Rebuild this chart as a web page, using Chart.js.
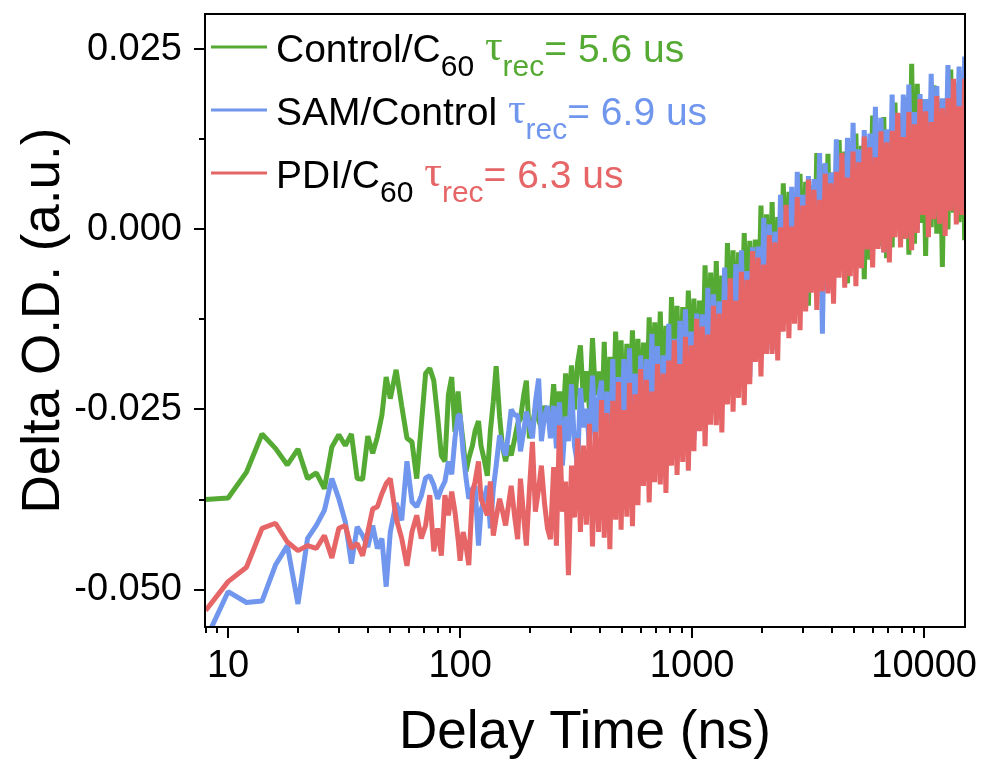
<!DOCTYPE html>
<html>
<head>
<meta charset="utf-8">
<title>Delta O.D. vs delay time</title>
<script src="https://cdn.jsdelivr.net/npm/chart.js@4.4.1/dist/chart.umd.min.js"></script>
<style>
  html, body { margin: 0; padding: 0; background: #fff; }
  canvas { display: block; }
</style>
</head>
<body>
<canvas id="decayChart" width="984" height="767"></canvas>
<script>
// Delay times (ns), shared by all three traces
const delayTimes = [
  8, 10, 12, 14, 16, 18, 20, 22, 24, 26, 28, 30, 32, 34, 36, 38, 40, 42, 44, 46, 48, 50,
  53, 56, 59, 62, 65, 68, 71, 74, 77, 80, 83, 86, 89, 92, 95, 98,
  100, 103, 106, 109, 113, 116, 120, 123, 127, 131,
  135, 139, 143, 148, 152, 157, 162, 166, 172, 177,
  182, 188, 193, 199, 205, 211, 218, 224, 231, 238,
  245, 253, 260, 268, 276, 285, 293, 302, 311, 321,
  330, 340, 350, 361, 372, 383, 395,
  407, 418, 430, 442, 455, 468, 481, 494, 508, 523,
  537, 553, 568, 584, 600, 617, 635, 653, 671, 690,
  709, 729, 750, 771, 793, 815, 838, 861, 886, 911,
  936, 963, 990, 1018, 1046, 1076, 1106, 1137, 1169, 1202,
  1236, 1271, 1306, 1343, 1381, 1420, 1460, 1501, 1543, 1586,
  1631, 1677, 1724, 1772, 1822, 1873, 1926, 1980, 2036, 2093,
  2152, 2212, 2274, 2338, 2404, 2471, 2541, 2612, 2686, 2761,
  2839, 2918, 3000, 3085, 3171, 3260, 3352, 3446, 3543, 3643,
  3745, 3850, 3958, 4069, 4184, 4301, 4422, 4546, 4674, 4805,
  4940, 5079, 5221, 5368, 5519, 5674, 5833, 5997, 6165, 6338,
  6516, 6699, 6887, 7081, 7279, 7484, 7694, 7910, 8132, 8360,
  8595, 8836, 9084, 9339, 9601, 9871, 10148, 10433, 10726, 11027,
  11336, 11654, 11982, 12318, 12664, 13019, 13384, 13760, 14146, 14544,
  14952
];

// Control/C60
const controlC60 = [
  -0.0375, -0.0373, -0.0337, -0.0284, -0.0304, -0.0327, -0.0305, -0.0346, -0.0338, -0.0360, -0.0302, -0.0285, -0.0300, -0.0284, -0.0346, -0.0347, -0.0287, -0.0311, -0.0288, -0.0258, -0.0205, -0.0235,
  -0.0195, -0.0245, -0.0290, -0.0295, -0.0346, -0.0272, -0.0200, -0.0193, -0.0210, -0.0260, -0.0314, -0.0322, -0.0230, -0.0205, -0.0281, -0.0225,
  -0.0260, -0.0295, -0.0336, -0.0318, -0.0300, -0.0280, -0.0266, -0.0300, -0.0320, -0.0342,
  -0.0280, -0.0239, -0.0190, -0.0260, -0.0300, -0.0322, -0.0300, -0.0314, -0.0290, -0.0270,
  -0.0263, -0.0230, -0.0210, -0.0290, -0.0270, -0.0249, -0.0265, -0.0276, -0.0245, -0.0260,
  -0.0272, -0.0215, -0.0265, -0.0225, -0.0281, -0.0200, -0.0260, -0.0189, -0.0250, -0.0185,
  -0.0161, -0.0240, -0.0197, -0.0250, -0.0151, -0.0230, -0.0197,
  -0.0286, -0.0156, -0.0299, -0.0177, -0.0287, -0.0142, -0.0268, -0.0154, -0.0297, -0.0159,
  -0.0269, -0.0140, -0.0274, -0.0152, -0.0287, -0.0157, -0.0267, -0.0122, -0.0248, -0.0129,
  -0.0254, -0.0114, -0.0265, -0.0134, -0.0250, -0.0094, -0.0227, -0.0106, -0.0256, -0.0108,
  -0.0225, -0.0085, -0.0227, -0.0096, -0.0238, -0.0099, -0.0220, -0.0050, -0.0193, -0.0060,
  -0.0195, -0.0044, -0.0206, -0.0064, -0.0189, -0.0019, -0.0162, -0.0029, -0.0191, -0.0032,
  -0.0156, -0.0005, -0.0158, -0.0016, -0.0173, -0.0014, -0.0146, 0.0033, -0.0119, 0.0021,
  -0.0121, 0.0038, -0.0132, 0.0017, -0.0115, 0.0064, -0.0087, 0.0052, -0.0119, 0.0050,
  -0.0082, 0.0077, -0.0090, 0.0066, -0.0106, 0.0061, -0.0081, 0.0106, -0.0056, 0.0090,
  -0.0062, 0.0105, -0.0079, 0.0079, -0.0063, 0.0124, -0.0039, 0.0108, -0.0075, 0.0102,
  -0.0045, 0.0133, -0.0051, 0.0116, -0.0069, 0.0109, -0.0042, 0.0158, -0.0016, 0.0140,
  -0.0023, 0.0156, -0.0040, 0.0127, -0.0025, 0.0176, 0.0002, 0.0158, -0.0013, 0.0183,
  -0.0035, 0.0230, -0.0020, 0.0202, 0.0009, 0.0181, -0.0037, 0.0172, 0.0003, 0.0200,
  -0.0006, 0.0178, -0.0052, 0.0170, 0.0000, 0.0222, 0.0023, 0.0202, 0.0010, 0.0215,
  -0.0015
];

// SAM/Control
const samControl = [
  -0.0570, -0.0503, -0.0518, -0.0516, -0.0466, -0.0439, -0.0520, -0.0429, -0.0411, -0.0390, -0.0346, -0.0374, -0.0406, -0.0464, -0.0413, -0.0425, -0.0441, -0.0411, -0.0443, -0.0429, -0.0496, -0.0420,
  -0.0380, -0.0404, -0.0322, -0.0378, -0.0385, -0.0370, -0.0345, -0.0342, -0.0355, -0.0374, -0.0360, -0.0350, -0.0322, -0.0340, -0.0290, -0.0258,
  -0.0258, -0.0309, -0.0345, -0.0374, -0.0360, -0.0356, -0.0439, -0.0390, -0.0374, -0.0356,
  -0.0415, -0.0360, -0.0328, -0.0286, -0.0300, -0.0314, -0.0280, -0.0250, -0.0258, -0.0258,
  -0.0308, -0.0280, -0.0253, -0.0272, -0.0290, -0.0240, -0.0207, -0.0294, -0.0260, -0.0245,
  -0.0290, -0.0245, -0.0304, -0.0240, -0.0328, -0.0260, -0.0294, -0.0215, -0.0300, -0.0328,
  -0.0220, -0.0275, -0.0249, -0.0300, -0.0203, -0.0290, -0.0235,
  -0.0210, -0.0388, -0.0225, -0.0353, -0.0180, -0.0358, -0.0205, -0.0333, -0.0180, -0.0338,
  -0.0165, -0.0352, -0.0200, -0.0357, -0.0175, -0.0312, -0.0180, -0.0327, -0.0145, -0.0309,
  -0.0162, -0.0331, -0.0175, -0.0296, -0.0131, -0.0298, -0.0152, -0.0273, -0.0127, -0.0276,
  -0.0111, -0.0289, -0.0142, -0.0292, -0.0117, -0.0247, -0.0118, -0.0257, -0.0081, -0.0238,
  -0.0090, -0.0257, -0.0100, -0.0219, -0.0053, -0.0224, -0.0076, -0.0195, -0.0048, -0.0196,
  -0.0029, -0.0205, -0.0058, -0.0205, -0.0025, -0.0159, -0.0024, -0.0169, 0.0016, -0.0148,
  0.0007, -0.0168, -0.0003, -0.0127, 0.0048, -0.0127, 0.0029, -0.0096, 0.0059, -0.0096,
  0.0080, -0.0105, 0.0048, -0.0109, 0.0074, -0.0063, 0.0070, -0.0077, 0.0106, -0.0145,
  0.0092, -0.0084, 0.0079, -0.0048, 0.0125, -0.0052, 0.0101, -0.0026, 0.0127, -0.0030,
  0.0148, -0.0049, 0.0111, -0.0054, 0.0138, -0.0006, 0.0133, -0.0022, 0.0170, -0.0006,
  0.0155, -0.0032, 0.0139, 0.0005, 0.0187, 0.0000, 0.0161, 0.0027, 0.0187, 0.0020,
  0.0201, 0.0003, 0.0163, -0.0003, 0.0188, 0.0043, 0.0181, 0.0025, 0.0216, 0.0039,
  0.0199, 0.0012, 0.0182, 0.0047, 0.0228, 0.0041, 0.0201, 0.0066, 0.0226, 0.0059,
  0.0240
];

// PDI/C60
const pdiC60 = [
  -0.0529, -0.0489, -0.0469, -0.0415, -0.0408, -0.0434, -0.0446, -0.0439, -0.0443, -0.0425, -0.0456, -0.0415, -0.0411, -0.0443, -0.0436, -0.0453, -0.0420, -0.0388, -0.0385, -0.0367, -0.0353, -0.0346,
  -0.0401, -0.0429, -0.0467, -0.0420, -0.0397, -0.0429, -0.0411, -0.0369, -0.0447, -0.0415, -0.0453, -0.0369, -0.0397, -0.0364, -0.0392, -0.0430,
  -0.0460, -0.0420, -0.0440, -0.0466, -0.0365, -0.0350, -0.0322, -0.0374, -0.0385, -0.0397,
  -0.0350, -0.0425, -0.0400, -0.0374, -0.0390, -0.0411, -0.0380, -0.0356, -0.0400, -0.0430,
  -0.0346, -0.0400, -0.0439, -0.0360, -0.0295, -0.0392, -0.0360, -0.0328, -0.0380, -0.0415,
  -0.0430, -0.0330, -0.0439, -0.0272, -0.0392, -0.0350, -0.0480, -0.0328, -0.0400, -0.0290,
  -0.0420, -0.0300, -0.0410, -0.0270, -0.0440, -0.0281, -0.0420,
  -0.0237, -0.0428, -0.0255, -0.0444, -0.0238, -0.0403, -0.0212, -0.0417, -0.0251, -0.0399,
  -0.0213, -0.0412, -0.0229, -0.0383, -0.0194, -0.0356, -0.0209, -0.0379, -0.0225, -0.0351,
  -0.0187, -0.0354, -0.0200, -0.0366, -0.0182, -0.0328, -0.0154, -0.0341, -0.0187, -0.0323,
  -0.0149, -0.0335, -0.0161, -0.0308, -0.0124, -0.0280, -0.0135, -0.0301, -0.0146, -0.0271,
  -0.0106, -0.0272, -0.0117, -0.0282, -0.0098, -0.0243, -0.0068, -0.0253, -0.0099, -0.0234,
  -0.0059, -0.0244, -0.0070, -0.0215, -0.0030, -0.0184, -0.0039, -0.0204, -0.0049, -0.0173,
  -0.0008, -0.0173, -0.0018, -0.0182, 0.0003, -0.0142, 0.0034, -0.0151, 0.0004, -0.0131,
  0.0045, -0.0140, 0.0033, -0.0114, 0.0069, -0.0088, 0.0055, -0.0112, 0.0041, -0.0086,
  0.0077, -0.0089, 0.0064, -0.0103, 0.0080, -0.0067, 0.0106, -0.0081, 0.0072, -0.0065,
  0.0108, -0.0079, 0.0093, -0.0054, 0.0129, -0.0028, 0.0114, -0.0053, 0.0100, -0.0027,
  0.0136, -0.0032, 0.0121, -0.0046, 0.0137, -0.0011, 0.0162, -0.0025, 0.0128, -0.0013,
  0.0163, -0.0029, 0.0146, -0.0005, 0.0181, 0.0020, 0.0164, -0.0011, 0.0149, 0.0014,
  0.0185, 0.0008, 0.0168, -0.0009, 0.0182, 0.0026, 0.0209, 0.0007, 0.0171, 0.0020,
  0.0209
];

// recombination lifetimes (us) quoted in the legend
const tauRec = [5.6, 6.9, 6.3];

const xMajorTicks = [10, 100, 1000, 10000];
const xMinorTicks = [8, 9, 20, 30, 40, 50, 60, 70, 80, 90,
  200, 300, 400, 500, 600, 700, 800, 900,
  2000, 3000, 4000, 5000, 6000, 7000, 8000, 9000];
const yMajorTicks = [-0.05, -0.025, 0, 0.025];
const yMinorTicks = [-0.0375, -0.0125, 0.0125];

const GREEN = '#55aa34';
const BLUE = '#7096ee';
const RED = '#e66668';
const SANS = "'Liberation Sans', Arial, sans-serif";
const SERIF = "'Liberation Serif', 'DejaVu Serif', serif";

Chart.defaults.font.family = SANS;
Chart.defaults.color = '#000';

const toPoints = values => delayTimes.map((t, i) => ({ x: t, y: values[i] }));

// legend rows: sample name (with optional subscript) and its lifetime
const legendRows = [
  { color: GREEN, name: 'Control/C', sub: '60', tau: tauRec[0] },
  { color: BLUE, name: 'SAM/Control', sub: '', tau: tauRec[1] },
  { color: RED, name: 'PDI/C', sub: '60', tau: tauRec[2] }
];

function drawRuns(ctx, x, baseline, runs) {
  runs.forEach(r => {
    ctx.font = r.font;
    ctx.fillStyle = r.color;
    ctx.fillText(r.text, x, baseline + (r.dy || 0));
    x += ctx.measureText(r.text).width;
  });
}

// keep the plot box where the layout puts it, labels may overhang
const noPadding = scale => {
  scale.paddingTop = 0;
  scale.paddingBottom = 0;
  scale.paddingLeft = 0;
  scale.paddingRight = 0;
};

// frame, outward tick marks and the legend
const frameAndLegend = {
  id: 'frameAndLegend',
  afterDraw(chart) {
    const { ctx, chartArea: a, scales: { x, y } } = chart;
    ctx.save();
    ctx.strokeStyle = '#000';
    ctx.lineWidth = 2;
    ctx.strokeRect(a.left, a.top, a.right - a.left, a.bottom - a.top);

    ctx.beginPath();
    x.ticks.forEach(t => {
      const px = Math.round(x.getPixelForValue(t.value));
      if (px < a.left - 1 || px > a.right + 1) return;
      const len = xMajorTicks.includes(t.value) ? 11 : 6;
      ctx.moveTo(px, a.bottom);
      ctx.lineTo(px, a.bottom + len);
    });
    y.ticks.forEach(t => {
      const py = Math.round(y.getPixelForValue(t.value));
      const len = yMajorTicks.includes(t.value) ? 11 : 6;
      ctx.moveTo(a.left, py);
      ctx.lineTo(a.left - len, py);
    });
    ctx.stroke();

    const main = '39px ' + SANS;
    const small = '30px ' + SANS;
    const tauFont = '44px ' + SERIF;
    ctx.textBaseline = 'alphabetic';
    ctx.textAlign = 'left';
    legendRows.forEach((row, i) => {
      const base = 62 + i * 63;
      ctx.strokeStyle = row.color;
      ctx.lineWidth = 3;
      ctx.beginPath();
      ctx.moveTo(211, base - 15);
      ctx.lineTo(267, base - 15);
      ctx.stroke();
      const runs = [{ text: row.name, font: main, color: '#000' }];
      if (row.sub) runs.push({ text: row.sub, font: small, color: '#000', dy: 14 });
      runs.push({ text: ' ', font: main, color: '#000' });
      runs.push({ text: 'τ', font: tauFont, color: row.color, dy: -2 });
      runs.push({ text: 'rec', font: small, color: row.color, dy: 14 });
      runs.push({ text: '= ' + row.tau + ' us', font: main, color: row.color });
      drawRuns(ctx, 276, base, runs);
    });
    ctx.restore();
  }
};

new Chart(document.getElementById('decayChart'), {
  type: 'line',
  data: {
    datasets: [
      { label: 'Control/C60', data: toPoints(controlC60), borderColor: GREEN, order: 3 },
      { label: 'SAM/Control', data: toPoints(samControl), borderColor: BLUE, order: 2 },
      { label: 'PDI/C60', data: toPoints(pdiC60), borderColor: RED, order: 1 }
    ]
  },
  options: {
    responsive: false,
    animation: false,
    datasets: {
      line: { borderWidth: 5 }
    },
    elements: {
      line: { tension: 0, fill: false, borderJoinStyle: 'bevel' },
      point: { radius: 0, hoverRadius: 0 }
    },
    layout: { padding: { top: 14, right: 19, left: 0, bottom: 0 } },
    plugins: {
      legend: { display: false },
      tooltip: { enabled: false }
    },
    scales: {
      x: {
        type: 'logarithmic',
        min: 7.95,
        max: 15000,
        afterBuildTicks: scale => {
          scale.ticks = [...xMinorTicks, ...xMajorTicks].sort((a, b) => a - b).map(v => ({ value: v }));
        },
        afterFit: scale => { scale.height = 140; noPadding(scale); },
        grid: { display: false, drawTicks: false },
        border: { display: false },
        ticks: {
          autoSkip: false,
          maxRotation: 0,
          padding: 17,
          font: { size: 38 },
          callback: v => xMajorTicks.includes(v) ? String(v) : ''
        },
        title: {
          display: true,
          text: 'Delay Time (ns)',
          font: { size: 53 },
          padding: { top: 0, bottom: 2 }
        }
      },
      y: {
        type: 'linear',
        min: -0.0552,
        max: 0.0299,
        afterBuildTicks: scale => {
          scale.ticks = [...yMinorTicks, ...yMajorTicks].sort((a, b) => a - b).map(v => ({ value: v }));
        },
        afterFit: scale => { scale.width = 205; noPadding(scale); },
        grid: { display: false, drawTicks: false },
        border: { display: false },
        ticks: {
          autoSkip: false,
          padding: 23,
          font: { size: 38 },
          callback: v => yMajorTicks.includes(v) ? (Math.abs(v) < 1e-9 ? 0 : v).toFixed(3) : ''
        },
        title: {
          display: true,
          text: 'Delta O.D. (a.u.)',
          font: { size: 53 },
          padding: { top: 13, bottom: 0 }
        }
      }
    }
  },
  plugins: [frameAndLegend]
});
</script>
</body>
</html>
